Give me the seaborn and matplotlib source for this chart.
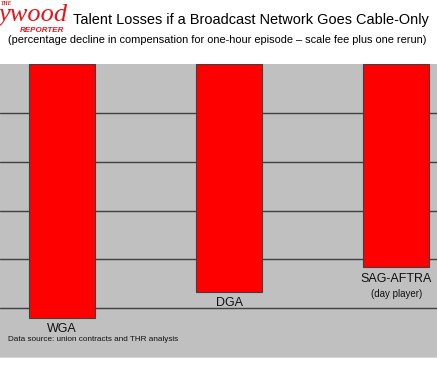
import matplotlib
matplotlib.use("Agg")
import matplotlib.pyplot as plt
import seaborn as sns
import pandas as pd

# values (percentage decline, gridlines every 5 points)
unions = ["WGA", "DGA", "SAG-AFTRA"]
decline = [-26.0, -23.3, -20.8]
bar_labels = ["WGA", "DGA", "SAG-AFTRA\n(day player)"]
grid_ticks = [-5, -10, -15, -20, -25]

df = pd.DataFrame({"union": unions, "decline": decline})

sns.set_style("white")
plt.rcParams["font.family"] = ["Liberation Sans", "DejaVu Sans"]

fig = plt.figure(figsize=(4.37, 3.65), dpi=100)
ax = fig.add_axes([0, 0.0219, 1, 0.8027])

sns.barplot(data=df, x="union", y="decline", color="#ff0000", saturation=1,
            width=0.395, edgecolor="#404040", linewidth=0.8, ax=ax, zorder=3)

ax.set_facecolor("#c0c0c0")
ax.set_xlim(-0.371, 2.243)
ax.set_ylim(-30, 0)
for t in grid_ticks:
    ax.axhline(t, color="#404040", linewidth=1, zorder=1)
ax.set_xlabel("")
ax.set_ylabel("")
ax.set_xticks([])
ax.set_yticks([])
for s in ["left", "right", "top"]:
    ax.spines[s].set_visible(False)
ax.spines["bottom"].set_color("#d8d8d8")

# labels under each bar end
for i, (v, lab) in enumerate(zip(decline, bar_labels)):
    lines = lab.split("\n")
    ax.annotate(lines[0], (i, v), xytext=(0, -4), textcoords="offset points",
                ha="center", va="top", fontsize=9, color="#111111")
    if len(lines) > 1:
        ax.annotate(lines[1], (i, v), xytext=(0, -15.5), textcoords="offset points",
                    ha="center", va="top", fontsize=7, color="#111111")

ax.text(0.018, 0.06, "Data source: union contracts and THR analysis",
        transform=ax.transAxes, fontsize=5.9, color="#111111", va="center")

# logo fragment (cropped at the left, as in the source)
fig.text(0.002, 0.998, "THE", fontsize=4, color="#e8141c", fontweight="bold",
         fontstyle="italic", va="top", family="Liberation Serif")
fig.text(-0.005, 0.99, "ywood", fontsize=19, color="#e8141c", fontstyle="italic",
         va="top", family="Liberation Serif")
fig.text(0.045, 0.925, "REPORTER", fontsize=5.8, color="#e8141c", fontweight="bold",
         fontstyle="italic", va="top")

fig.text(0.167, 0.945, "Talent Losses if a Broadcast Network Goes Cable-Only",
         fontsize=10.45, color="#000000", va="center")
fig.text(0.497, 0.89,
         "(percentage decline in compensation for one-hour episode \u2013 scale fee plus one rerun)",
         fontsize=7.9, color="#000000", ha="center", va="center")

fig.savefig("out.png", dpi=100)
